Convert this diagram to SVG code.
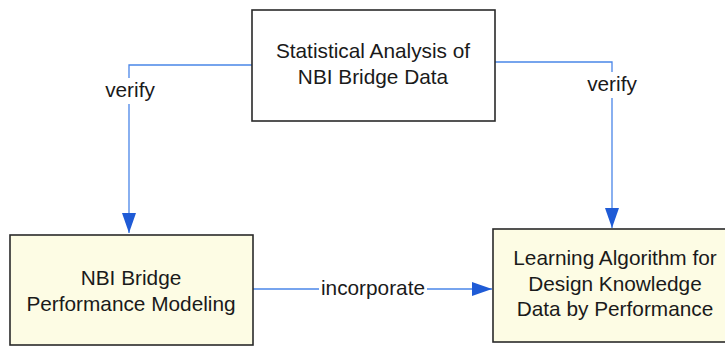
<svg xmlns="http://www.w3.org/2000/svg" width="725" height="347" viewBox="0 0 725 347">
  <style>
    .box { stroke: #2a2a2a; stroke-width: 1.6; }
    .plain { fill: #ffffff; }
    .tinted { fill: #fdfce4; }
    .label { font-family: "Liberation Sans", Arial, sans-serif; font-size: 20.8px; fill: #1a1a1a; text-anchor: middle; }
    .link { fill: none; stroke: #4a86e8; stroke-width: 1.3; }
  </style>
  <defs>
    <marker id="head" viewBox="0 0 20 14" refX="20" refY="7" markerWidth="20" markerHeight="14" markerUnits="userSpaceOnUse" orient="auto">
      <path d="M0,0 L20,7 L0,14 Z" fill="#1f5bd6"/>
    </marker>
  </defs>

  <rect width="725" height="347" fill="#ffffff"/>

  <g id="connectors">
    <polyline class="link" points="252,65 129,65 129,233" marker-end="url(#head)"/>
    <polyline class="link" points="495,62 612,62 612,228" marker-end="url(#head)"/>
    <line class="link" x1="253" y1="289" x2="492" y2="289" marker-end="url(#head)"/>
    <rect x="319" y="277" width="108" height="24" fill="#ffffff"/>
    <rect x="102" y="78" width="56" height="26" fill="#ffffff"/>
    <rect x="584" y="72" width="56" height="26" fill="#ffffff"/>
    <text class="label" x="130" y="97">verify</text>
    <text class="label" x="612" y="91">verify</text>
    <text class="label" x="373" y="295">incorporate</text>
  </g>

  <g id="statistical-analysis">
    <rect class="box plain" x="252" y="10" width="243" height="111"/>
    <text class="label" x="373" y="58">Statistical Analysis of</text>
    <text class="label" x="373" y="84">NBI Bridge Data</text>
  </g>

  <g id="performance-modeling">
    <rect class="box tinted" x="10" y="235" width="243" height="110"/>
    <text class="label" x="131" y="285">NBI Bridge</text>
    <text class="label" x="131" y="311">Performance Modeling</text>
  </g>

  <g id="learning-algorithm">
    <rect class="box tinted" x="493" y="229" width="240" height="113"/>
    <text class="label" x="615" y="265">Learning Algorithm for</text>
    <text class="label" x="615" y="291">Design Knowledge</text>
    <text class="label" x="615" y="316">Data by Performance</text>
  </g>
</svg>
